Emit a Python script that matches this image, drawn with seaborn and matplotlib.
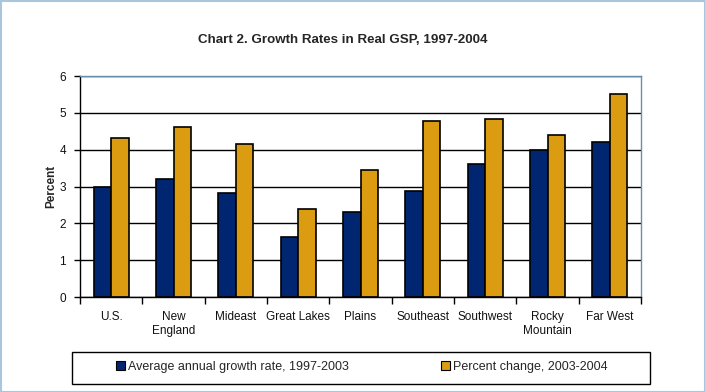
import matplotlib
matplotlib.use('Agg')
from matplotlib import pyplot as plt
from matplotlib.patches import Rectangle
from matplotlib.ticker import FixedLocator
import pandas as pd
import seaborn as sns

regions = ['U.S.', 'New\nEngland', 'Mideast', 'Great Lakes', 'Plains',
           'Southeast', 'Southwest', 'Rocky\nMountain', 'Far West']
avg_growth = [3.0, 3.2, 2.83, 1.64, 2.31, 2.89, 3.6, 3.98, 4.2]
pct_change = [4.32, 4.62, 4.16, 2.39, 3.45, 4.78, 4.82, 4.4, 5.5]
series_names = ['Average annual growth rate, 1997-2003', 'Percent change, 2003-2004']
colors = ['#002672', '#DB9C11']

df = pd.DataFrame({
    'region': regions * 2,
    'value': avg_growth + pct_change,
    'series': [series_names[0]] * len(regions) + [series_names[1]] * len(regions),
})

sns.set_style('white')
plt.rcParams['font.family'] = ['Liberation Sans', 'DejaVu Sans']

fig = plt.figure(figsize=(7.05, 3.92), dpi=100)
ax = fig.add_axes([80 / 705, 1 - 297 / 392, 561 / 705, 221 / 392])

sns.barplot(data=df, x='region', y='value', hue='series', palette=colors,
            saturation=1, width=0.56, edgecolor='black', linewidth=1.2, ax=ax)
handles, labels = ax.get_legend_handles_labels()
ax.get_legend().remove()

ax.set_xlim(-0.5, len(regions) - 0.5)
ax.set_ylim(0, 6)
ax.set_yticks(range(7))
ax.yaxis.grid(True, color='black', linewidth=1)
ax.set_axisbelow(True)

ax.xaxis.set_minor_locator(FixedLocator([i - 0.5 for i in range(len(regions) + 1)]))
ax.tick_params(axis='x', which='major', length=0, pad=10, labelsize=8.5, colors='#111111')
ax.tick_params(axis='x', which='minor', length=5, width=1, color='black', direction='out', bottom=True)
ax.tick_params(axis='y', length=4, width=1, color='black', direction='out', left=True,
               labelsize=8.5, pad=6, labelcolor='#111111')

ax.set_xlabel('')
ax.set_ylabel('Percent', fontsize=8.5, fontweight='bold')
ax.yaxis.set_label_coords(-0.04, 0.5)

for side in ['left', 'bottom']:
    ax.spines[side].set_color('black')
    ax.spines[side].set_linewidth(1)
for side in ['top', 'right']:
    ax.spines[side].set_visible(True)
    ax.spines[side].set_color('#6B8FAA')
    ax.spines[side].set_linewidth(1)

fig.text(343 / 705, 1 - 40 / 392, 'Chart 2. Growth Rates in Real GSP, 1997-2004',
         ha='center', va='center', fontsize=9.6, fontweight='bold')

for h in handles:
    h.set_edgecolor('black')
    h.set_linewidth(0.8)
fig.legend(handles, labels, loc='center', bbox_to_anchor=(362 / 705, 1 - 367 / 392),
           ncol=2, frameon=False, fontsize=9, handlelength=0.7, handleheight=0.7,
           handletextpad=0.25, columnspacing=7.4)
fig.patches.append(Rectangle((72 / 705, 1 - 384 / 392), 578 / 705, 32 / 392,
                             transform=fig.transFigure, fill=False,
                             edgecolor='black', linewidth=1))
fig.patches.append(Rectangle((0.5 / 705, 0.5 / 392), 704 / 705, 391 / 392,
                             transform=fig.transFigure, fill=False,
                             edgecolor='#A9C6DD', linewidth=1.5))

fig.savefig('out.png', dpi=100)
